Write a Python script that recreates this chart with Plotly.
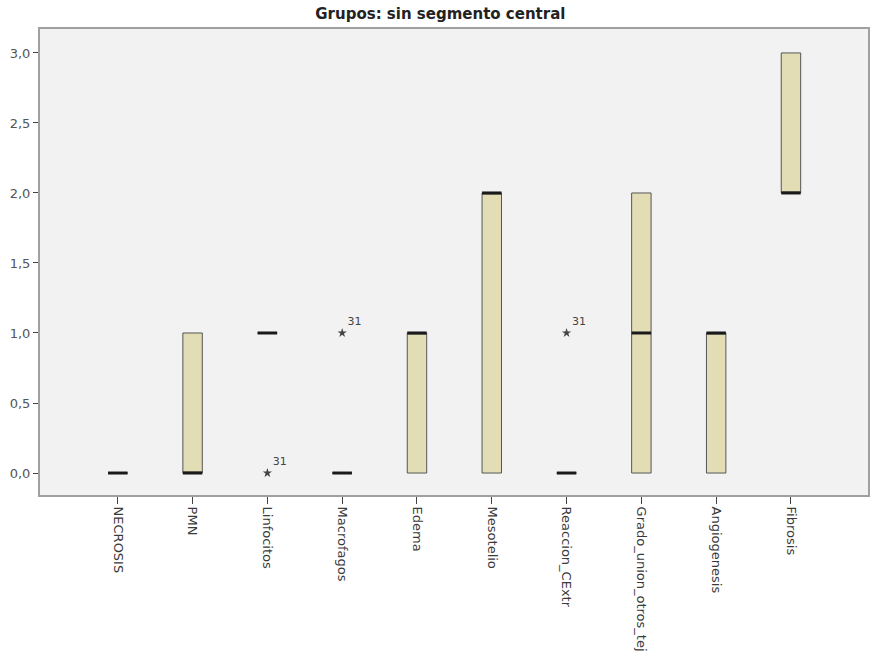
import plotly.graph_objects as go

# Variables grouped on the x axis
categories = ["NECROSIS", "PMN", "Linfocitos", "Macrofagos", "Edema",
              "Mesotelio", "Reaccion_CExtr", "Grado_union_otros_tej",
              "Angiogenesis", "Fibrosis"]

# Box statistics per variable
q1_vals = [0, 0, 1, 0, 0, 0, 0, 0, 0, 2]
median_vals = [0, 0, 1, 0, 1, 2, 0, 1, 1, 2]
q3_vals = [0, 1, 1, 0, 1, 2, 0, 2, 1, 3]

# Extreme values (star markers) with their case label
outlier_cats = ["Linfocitos", "Macrofagos", "Reaccion_CExtr"]
outlier_vals = [0, 1, 1]
outlier_labels = ["31", "31", "31"]

y_ticks = [0.0, 0.5, 1.0, 1.5, 2.0, 2.5, 3.0]

BOX_W = 0.26
FONT = "DejaVu Sans, Verdana, sans-serif"
pos = list(range(len(categories)))
idx = {c: i for i, c in enumerate(categories)}

fig = go.Figure()

fig.add_trace(go.Box(
    x=pos,
    q1=q1_vals,
    median=median_vals,
    q3=q3_vals,
    lowerfence=q1_vals,
    upperfence=q3_vals,
    width=BOX_W,
    fillcolor="#e2ddb5",
    line=dict(color="#555555", width=1),
    whiskerwidth=0,
    boxpoints=False,
    hoverinfo="skip",
    showlegend=False,
))

# Thick median bars
mx, my = [], []
for i, m in zip(pos, median_vals):
    mx += [i - BOX_W / 2, i + BOX_W / 2, None]
    my += [m, m, None]
fig.add_trace(go.Scatter(
    x=mx, y=my, mode="lines",
    line=dict(color="#1a1a1a", width=3),
    hoverinfo="skip", showlegend=False,
))

# Extreme cases
fig.add_trace(go.Scatter(
    x=[idx[c] for c in outlier_cats],
    y=outlier_vals,
    mode="markers+text",
    marker=dict(symbol="star", size=7, color="#444444"),
    text=outlier_labels,
    textposition="top right",
    textfont=dict(family=FONT, size=11, color="#444444"),
    hoverinfo="skip", showlegend=False,
))

fig.update_layout(
    width=872, height=659,
    margin=dict(l=40, r=2, t=29, b=164),
    paper_bgcolor="white",
    plot_bgcolor="#f2f2f2",
    separators=",.",
    title=dict(
        text="<b>Grupos: sin segmento central</b>",
        x=0.505, xanchor="center", y=0.979, yanchor="middle",
        font=dict(family=FONT, size=15, color="#222222"),
    ),
    font=dict(family=FONT, size=13, color="#444444"),
)

fig.update_xaxes(
    range=[-1.04, 10.03],
    tickmode="array", tickvals=pos, ticktext=categories,
    tickangle=90,
    ticks="outside", ticklen=7, tickcolor="#444444", tickwidth=1,
    showline=True, linecolor="#a0a0a0", linewidth=2, mirror=True,
    showgrid=False, zeroline=False,
    tickfont=dict(family=FONT, size=13, color="#3a3a3a"),
)
fig.update_yaxes(
    range=[-0.157, 3.171],
    tickmode="array", tickvals=y_ticks, tickformat=".1f",
    ticks="outside", ticklen=5, tickcolor="#444444", tickwidth=1,
    showline=True, linecolor="#a0a0a0", linewidth=2, mirror=True,
    showgrid=False, zeroline=False,
    tickfont=dict(family=FONT, size=13, color="#555555"),
)

fig.write_html("out.html")
